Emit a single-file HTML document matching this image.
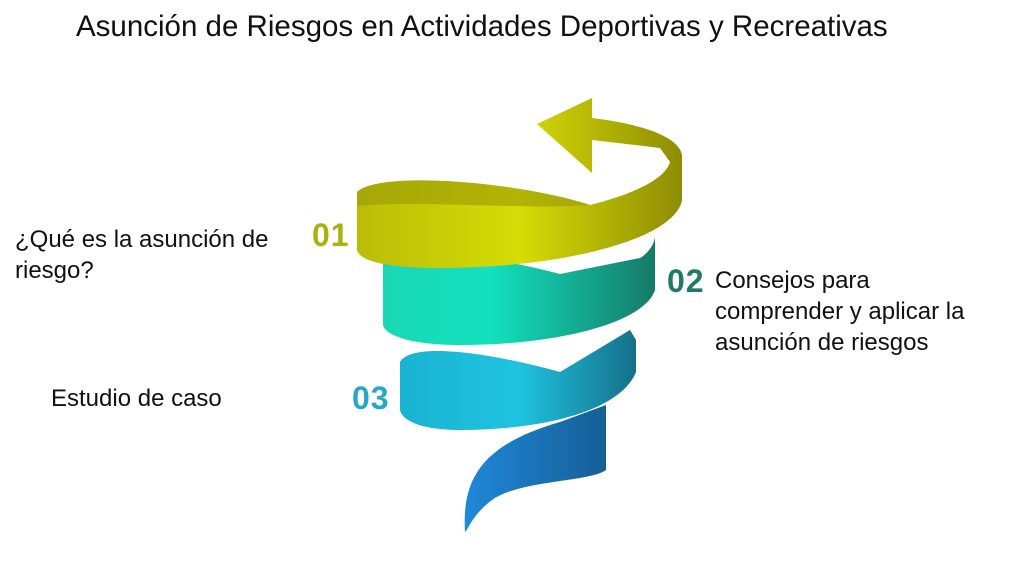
<!DOCTYPE html>
<html><head><meta charset="utf-8"><style>
body{margin:0;width:1024px;height:572px;background:#fff;overflow:hidden;position:relative;font-family:"Liberation Sans",sans-serif;}
.t{position:absolute;color:#111;font-size:24px;line-height:31px;}
.n{position:absolute;font-family:"Liberation Sans",sans-serif;font-weight:bold;font-size:32px;letter-spacing:1px;}
</style></head><body>
<div class="t" style="left:76px;top:10px;font-size:29.5px;line-height:34px;">Asunción de Riesgos en Actividades Deportivas y Recreativas</div>
<div class="t" style="left:15px;top:224px;">¿Qué es la asunción de<br>riesgo?</div>
<div class="t" style="left:51px;top:383px;">Estudio de caso</div>
<div class="t" style="left:715px;top:265px;">Consejos para<br>comprender y aplicar la<br>asunción de riesgos</div>
<div class="n" style="left:312px;top:217px;color:#a9b10a;">01</div>
<div class="n" style="left:667px;top:263px;color:#1f7a66;">02</div>
<div class="n" style="left:352px;top:380px;color:#27a9c6;">03</div>
<svg width="1024" height="572" style="position:absolute;left:0;top:0">
<defs>
<linearGradient id="y" x1="0" x2="1"><stop offset="0" stop-color="#b9bd08"/><stop offset=".5" stop-color="#d6dc06"/><stop offset="1" stop-color="#8e8c04"/></linearGradient>
<linearGradient id="g" x1="0" x2="1"><stop offset="0" stop-color="#1bd8b4"/><stop offset=".4" stop-color="#12e0be"/><stop offset="1" stop-color="#157a68"/></linearGradient>
<linearGradient id="b" x1="0" x2="1"><stop offset="0" stop-color="#1ab3d2"/><stop offset=".5" stop-color="#1fc3e0"/><stop offset="1" stop-color="#15708a"/></linearGradient>
<linearGradient id="d" x1="0" x2="1"><stop offset="0" stop-color="#1f88d8"/><stop offset="1" stop-color="#155f96"/></linearGradient>
</defs>
<path d="M465,532 C462,480 480,445 560,422 L606,405 L606,470 C590,482 520,480 492,500 C472,515 468,530 465,532 Z" fill="url(#d)"/>
<path d="M400,362 C410,343 480,350 560,372 L630,330 L636,340 L636,372 C620,412 540,430 460,430 C420,430 402,420 400,410 Z" fill="url(#b)"/>
<path d="M383,262 C400,246 480,253 560,274 L640,258 C650,252 655,242 655,236 L655,290 C645,322 560,345 460,345 C410,345 385,335 383,325 Z" fill="url(#g)"/>
<path d="M357,192 C380,170 520,182 590,205 C630,195 665,180 670,162 L660,148 L592,140 L592,173 L537,124 L592,98 L592,118 C650,125 685,140 682,160 L682,200 C675,240 560,268 440,268 C390,268 360,262 357,250 Z" fill="url(#y)"/>
<path d="M357,192 C380,170 520,182 590,205 C520,210 430,200 357,206 Z" fill="#9a9a06" opacity=".6"/>
</svg>
</body></html>
